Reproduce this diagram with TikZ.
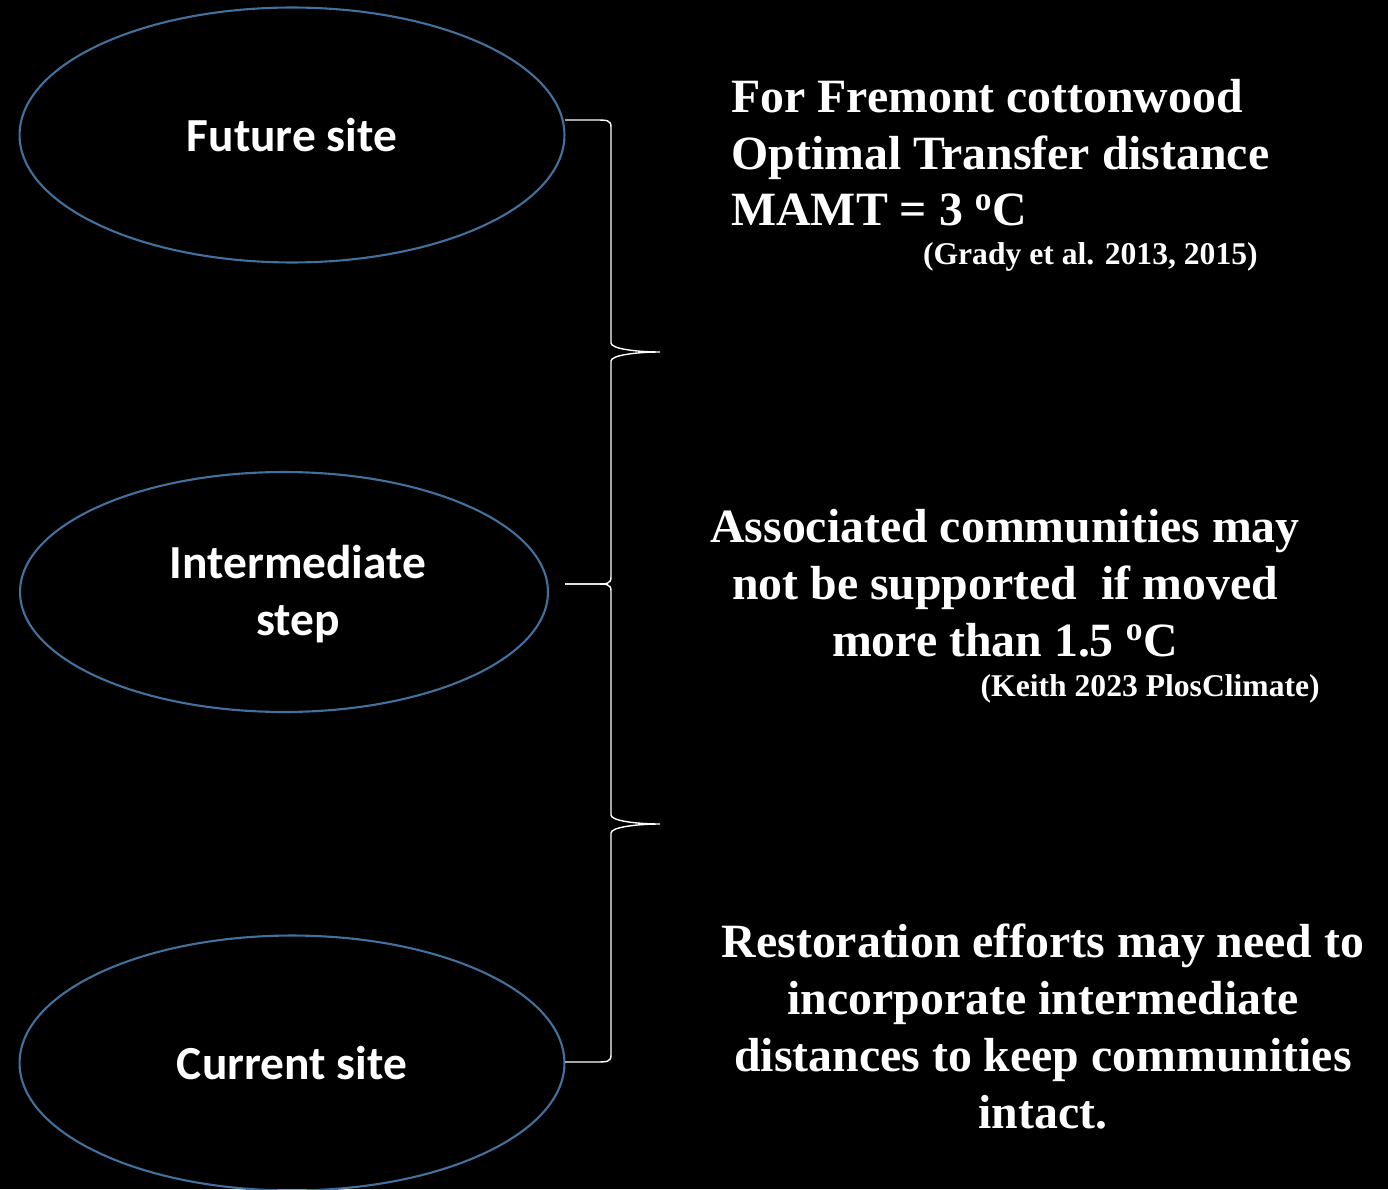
\documentclass[tikz,border=0pt]{standalone}
\usepackage{fontspec}
\setmainfont{Liberation Serif}
\newfontfamily\calibri{Carlito}
\usepackage{tikz}
\usetikzlibrary{shapes.geometric}
\usetikzlibrary{calc}
\usetikzlibrary{positioning}
\definecolor{ovalblue}{RGB}{65,113,156}
\tikzset{site/.style={draw=ovalblue,
                      line width=1.2pt,
                      ellipse,
                      inner sep=0pt,
                      align=center,
                      text=white,
                      font=\calibri\bfseries\fontsize{27}{32.3}\selectfont}}
\tikzset{site text/.style={text=white,
                           align=center,
                           inner sep=0pt,
                           font=\calibri\bfseries\fontsize{27}{32.3}\selectfont}}
\tikzset{note/.style={text=white,
                      inner sep=0pt,
                      font=\bfseries\fontsize{27.2}{32.3}\selectfont}}
\tikzset{cite/.style={text=white,
                      inner sep=0pt,
                      font=\bfseries\fontsize{18}{21}\selectfont}}
\tikzset{bracket/.style={draw=white,
                         line width=0.8pt}}
\newcommand{\degC}{\textsuperscript{o}C}
% right curly brace: top end, tip, bottom end
\newcommand{\sidebrace}[3]{%
  \draw [bracket] (#1) -- ++(30,0)
    .. controls +(12,0) and +(0,-7) .. ++(16,7)
    -- ($(#2)+(-49,-9)$)
    .. controls +(0,6) and +(-22,0) .. (#2)
    .. controls +(-22,0) and +(0,-6) .. ($(#2)+(-49,9)$)
    -- ($(#3)+(46,-7)$)
    .. controls +(0,7) and +(12,0) .. ($(#3)+(30,0)$) -- (#3);}

\begin{document}
\begin{tikzpicture}
      [
      x=0.02cm,y=-0.02cm,
      ]

      \fill [black] (0,0) rectangle (1388,1189);
      \useasboundingbox (0,0) rectangle (1388,1189);

      % sites
      \node [site,minimum width=10.9cm,minimum height=5.1cm] (future) at (292,135) {Future site};
      \node [site,minimum width=10.56cm,minimum height=4.8cm,
             label={[site text,xshift=0.28cm,yshift=-0.04cm]center:Intermediate\\step}] (inter) at (284,592) {};
      \node [site,minimum width=10.9cm,minimum height=5.1cm] (current) at (292,1063) {Current site};

      % brace ends
      \coordinate (top1) at (565,120);
      \coordinate (tip1) at (660,352);
      \coordinate (mid) at (565,584);
      \coordinate (tip2) at (660,824);
      \coordinate (bot2) at (565,1062);

      % braces
      \sidebrace{top1}{tip1}{mid}
      \sidebrace{mid}{tip2}{bot2}

      % notes (anchored at the last line)
      \node [note,anchor=base west,align=left] (transfer) at (731,226)
      {For Fremont cottonwood\\Optimal Transfer distance\\MAMT = 3 \degC};
      \node [cite,anchor=base east] (grady) at (1258,265) {(Grady et al. 2013, 2015)};

      \node [note,anchor=base,align=center] (assoc) at (1005,656)
      {Associated communities may\\not be supported\ \ if moved\\more than 1.5 \degC};
      \node [cite,anchor=base east] (keith) at (1320,696) {(Keith 2023 PlosClimate)};

      \node [note,anchor=base,align=center] (restore) at (1043,1128)
      {Restoration efforts may need to\\incorporate intermediate\\distances to keep communities\\intact.};

\end{tikzpicture}
\end{document}
